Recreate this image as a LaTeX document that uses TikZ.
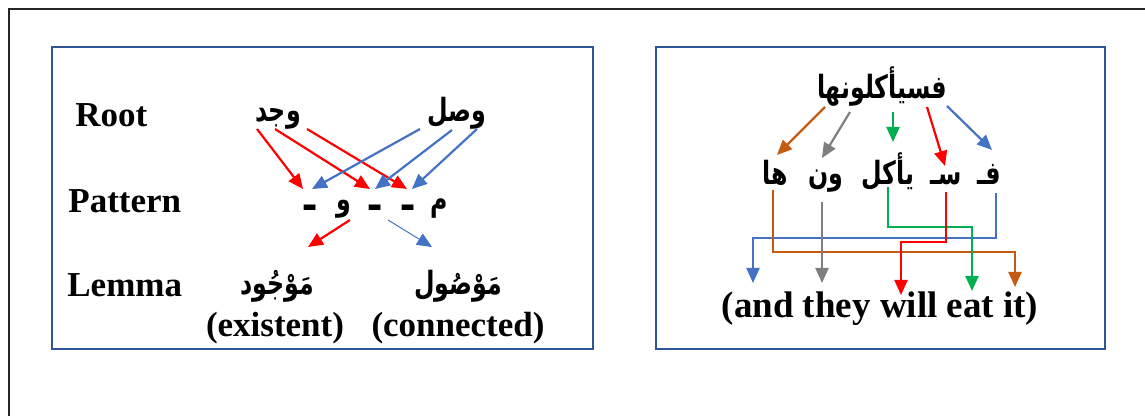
\documentclass[tikz,border=0pt]{standalone}
\usepackage{fontspec}
\setmainfont{Liberation Serif}
\newfontfamily\arabicfont[Script=Arabic, FakeStretch=0.74]{DejaVu Sans}
\TeXXeTstate=1
\usetikzlibrary{arrows.meta}

\definecolor{frameblue}{RGB}{47,85,151}
\definecolor{aroblue}{RGB}{68,114,196}
\definecolor{arored}{RGB}{255,0,0}
\definecolor{arobrown}{RGB}{197,90,17}
\definecolor{arogray}{RGB}{127,127,127}
\definecolor{arogreen}{RGB}{0,176,80}

\tikzset{
  lbl/.style={font=\fontsize{17.5}{20}\selectfont\bfseries, inner sep=0pt, anchor=base west},
  eng/.style={font=\fontsize{17.5}{20}\selectfont\bfseries, inner sep=0pt, anchor=base},
  ar/.style={font=\fontsize{16}{20}\selectfont\arabicfont\bfseries, inner sep=0pt, anchor=base},
  slot/.style={font=\fontsize{22}{24}\selectfont\arabicfont\bfseries, inner sep=0pt, anchor=base},
  panel/.style={draw=frameblue, line width=1.1pt},
  arr/.style={-{Triangle[length=7.5pt,width=6.5pt]}, line width=1.1pt},
  thinarr/.style={-{Triangle[length=7.5pt,width=6.5pt]}, line width=0.5pt},
}

\begin{document}
\begin{tikzpicture}[x=0.5pt, y=-0.5pt]
\useasboundingbox (0,0) rectangle (1145,416);

% page frame
\draw[line width=1.4pt, black!85] (1150,9) -- (9,9) -- (9,420);

% the two panels
\draw[panel] (52,47) rectangle (593,349);
\draw[panel] (656,47) rectangle (1105,349);

% ---------- root / pattern / lemma ----------
\node[lbl] (root) at (75,127) {Root};
\node[lbl] (pattern) at (68,213) {Pattern};
\node[lbl] (lemma) at (67,297) {Lemma};

\node[ar] (wjd) at (278,122) {\beginR وجد\endR};
\node[ar] (wsl) at (457,122) {\beginR وصل\endR};

% pattern slots, right to left: m - - w -
\node[ar] (p5) at (439,211) {\beginR م\endR};
\node[slot] (p4) at (408,211) {\beginR ـ\endR};
\node[slot] (p3) at (375,211) {\beginR ـ\endR};
\node[ar] (p2) at (344,211) {\beginR و\endR};
\node[slot] (p1) at (310,211) {\beginR ـ\endR};

\node[ar] (mawjud) at (277,295) {\beginR مَوْجُود\endR};
\node[ar] (mawsul) at (458,295) {\beginR مَوْصُول\endR};
\node[eng] (existent) at (275,337) {(existent)};
\node[eng] (connected) at (458,337) {(connected)};

% arrow ends
\coordinate (wjdA) at (257,129);
\coordinate (wjdB) at (275,129);
\coordinate (wjdC) at (307,129);
\coordinate (wslA) at (420,129);
\coordinate (wslB) at (452,130);
\coordinate (wslC) at (477,129);
\coordinate (s1) at (303,189);
\coordinate (s1b) at (312,189);
\coordinate (s2) at (370,189);
\coordinate (s2b) at (375,189);
\coordinate (s3) at (407,189);
\coordinate (s3b) at (412,189);
\coordinate (pl) at (350,220);
\coordinate (pr) at (388,220);
\coordinate (ml) at (308,247);
\coordinate (mr) at (432,247);

\draw[arr, arored] (wjdA) -- (s1);
\draw[arr, arored] (wjdB) -- (s2);
\draw[arr, arored] (wjdC) -- (s3);
\draw[arr, aroblue] (wslA) -- (s1b);
\draw[arr, aroblue] (wslB) -- (s2b);
\draw[arr, aroblue] (wslC) -- (s3b);
\draw[arr, arored] (pl) -- (ml);
\draw[thinarr, aroblue] (pr) -- (mr);

% ---------- segmentation ----------
\node[ar] (word) at (882,99) {\beginR فسيأكلونها\endR};
\node[ar] (fa) at (989,185) {\beginR فـ\endR};
\node[ar] (sa) at (946,185) {\beginR سـ\endR};
\node[ar] (yakul) at (888,185) {\beginR يأكل\endR};
\node[ar] (wn) at (826,185) {\beginR ون\endR};
\node[ar] (ha) at (775,185) {\beginR ها\endR};
\node[eng, font=\fontsize{18.5}{20}\selectfont\bfseries] (gloss) at (880,318) {(and they will eat it)};

\coordinate (wBr) at (825,107);
\coordinate (wGy) at (850,112);
\coordinate (wGn) at (893,112);
\coordinate (wRd) at (927,107);
\coordinate (wBl) at (947,106);
\coordinate (tBr) at (777,155);
\coordinate (tGy) at (822,158);
\coordinate (tGn) at (893,142);
\coordinate (tRd) at (945,166);
\coordinate (tBl) at (992,150);

\draw[arr, arobrown] (wBr) -- (tBr);
\draw[arr, arogray] (wGy) -- (tGy);
\draw[arr, arogreen] (wGn) -- (tGn);
\draw[arr, arored] (wRd) -- (tRd);
\draw[arr, aroblue] (wBl) -- (tBl);

\coordinate (haS) at (773,190);
\coordinate (wnS) at (822,202);
\coordinate (ykS) at (888,187);
\coordinate (saS) at (946,192);
\coordinate (faS) at (996,193);
\coordinate (gBl) at (753,283);
\coordinate (gGy) at (822,283);
\coordinate (gRd) at (901,295);
\coordinate (gGn) at (972,291);
\coordinate (gBr) at (1015,287);

% bracketed routes from the segments down to the gloss
\draw[arr, aroblue] (faS) -- ++(0,45) -| (gBl);
\draw[arr, arobrown] (haS) -- ++(0,62) -| (gBr);
\draw[arr, arogray] (wnS) -- (gGy);
\draw[arr, arogreen] (ykS) -- ++(0,40) -| (gGn);
\draw[arr, arored] (saS) -- ++(0,50) -| (gRd);
\end{tikzpicture}
\end{document}
